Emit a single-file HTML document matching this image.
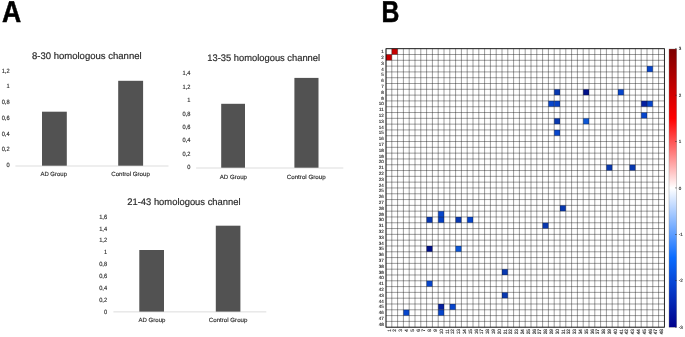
<!DOCTYPE html><html><head><meta charset="utf-8"><style>html,body{margin:0;padding:0;background:#fff}svg{display:block;will-change:transform}text{font-family:"Liberation Sans",sans-serif;text-rendering:geometricPrecision}</style></head><body>
<svg width="685" height="337" viewBox="0 0 685 337">
<rect width="685" height="337" fill="#fff"/>
<defs><linearGradient id="cb" x1="0" y1="0" x2="0" y2="1"><stop offset="0" stop-color="#7d0000"/><stop offset="0.25" stop-color="#ff0000"/><stop offset="0.5" stop-color="#ffffff"/><stop offset="0.75" stop-color="#0a6cff"/><stop offset="1" stop-color="#00008b"/></linearGradient></defs>
<text transform="translate(2.0 22.0) scale(0.88 1)" font-size="30.2" font-weight="bold" fill="#000" stroke="#000" stroke-width="0.5">A</text>
<text transform="translate(381.5 22.0) scale(0.82 1)" font-size="30.2" font-weight="bold" fill="#000" stroke="#000" stroke-width="0.5">B</text>
<text transform="translate(31.90 58.70) scale(1.0034 1)" font-size="9.5" fill="#2a2a2a" stroke="#2a2a2a" stroke-width="0.18">8-30 homologous channel</text>
<text transform="translate(9.60 72.70) scale(0.9200 1)" font-size="6.2" fill="#2a2a2a" text-anchor="end" stroke="#2a2a2a" stroke-width="0.14">1,2</text>
<text transform="translate(9.60 88.43) scale(0.9200 1)" font-size="6.2" fill="#2a2a2a" text-anchor="end" stroke="#2a2a2a" stroke-width="0.14">1</text>
<text transform="translate(9.60 104.17) scale(0.9200 1)" font-size="6.2" fill="#2a2a2a" text-anchor="end" stroke="#2a2a2a" stroke-width="0.14">0,8</text>
<text transform="translate(9.60 119.90) scale(0.9200 1)" font-size="6.2" fill="#2a2a2a" text-anchor="end" stroke="#2a2a2a" stroke-width="0.14">0,6</text>
<text transform="translate(9.60 135.63) scale(0.9200 1)" font-size="6.2" fill="#2a2a2a" text-anchor="end" stroke="#2a2a2a" stroke-width="0.14">0,4</text>
<text transform="translate(9.60 151.37) scale(0.9200 1)" font-size="6.2" fill="#2a2a2a" text-anchor="end" stroke="#2a2a2a" stroke-width="0.14">0,2</text>
<text transform="translate(9.60 167.10) scale(0.9200 1)" font-size="6.2" fill="#2a2a2a" text-anchor="end" stroke="#2a2a2a" stroke-width="0.14">0</text>
<rect x="15.4" y="165.6" width="153.1" height="0.8" fill="#d4d4d4"/>
<rect x="42.0" y="111.7" width="24.8" height="54.0" fill="#525252"/>
<rect x="118.2" y="80.8" width="24.9" height="84.9" fill="#525252"/>
<text transform="translate(40.40 176.30) scale(0.9971 1)" font-size="6.0" fill="#2a2a2a" stroke="#2a2a2a" stroke-width="0.14">AD Group</text>
<text transform="translate(111.20 176.30) scale(1.0269 1)" font-size="6.0" fill="#2a2a2a" stroke="#2a2a2a" stroke-width="0.14">Control Group</text>
<text transform="translate(207.30 60.90) scale(0.9842 1)" font-size="9.5" fill="#2a2a2a" stroke="#2a2a2a" stroke-width="0.18">13-35 homologous channel</text>
<text transform="translate(190.40 75.20) scale(0.9200 1)" font-size="6.2" fill="#2a2a2a" text-anchor="end" stroke="#2a2a2a" stroke-width="0.14">1,4</text>
<text transform="translate(190.40 88.66) scale(0.9200 1)" font-size="6.2" fill="#2a2a2a" text-anchor="end" stroke="#2a2a2a" stroke-width="0.14">1,2</text>
<text transform="translate(190.40 102.11) scale(0.9200 1)" font-size="6.2" fill="#2a2a2a" text-anchor="end" stroke="#2a2a2a" stroke-width="0.14">1</text>
<text transform="translate(190.40 115.57) scale(0.9200 1)" font-size="6.2" fill="#2a2a2a" text-anchor="end" stroke="#2a2a2a" stroke-width="0.14">0,8</text>
<text transform="translate(190.40 129.03) scale(0.9200 1)" font-size="6.2" fill="#2a2a2a" text-anchor="end" stroke="#2a2a2a" stroke-width="0.14">0,6</text>
<text transform="translate(190.40 142.49) scale(0.9200 1)" font-size="6.2" fill="#2a2a2a" text-anchor="end" stroke="#2a2a2a" stroke-width="0.14">0,4</text>
<text transform="translate(190.40 155.94) scale(0.9200 1)" font-size="6.2" fill="#2a2a2a" text-anchor="end" stroke="#2a2a2a" stroke-width="0.14">0,2</text>
<text transform="translate(190.40 169.40) scale(0.9200 1)" font-size="6.2" fill="#2a2a2a" text-anchor="end" stroke="#2a2a2a" stroke-width="0.14">0</text>
<rect x="196.1" y="167.6" width="147.2" height="0.8" fill="#d4d4d4"/>
<rect x="221.2" y="103.8" width="23.8" height="63.9" fill="#525252"/>
<rect x="294.4" y="77.9" width="24.1" height="89.8" fill="#525252"/>
<text transform="translate(219.70 178.60) scale(1.0233 1)" font-size="6.0" fill="#2a2a2a" stroke="#2a2a2a" stroke-width="0.14">AD Group</text>
<text transform="translate(286.70 178.60) scale(1.0349 1)" font-size="6.0" fill="#2a2a2a" stroke="#2a2a2a" stroke-width="0.14">Control Group</text>
<text transform="translate(127.30 204.80) scale(0.9877 1)" font-size="9.5" fill="#2a2a2a" stroke="#2a2a2a" stroke-width="0.18">21-43 homologous channel</text>
<text transform="translate(107.10 218.70) scale(0.9200 1)" font-size="6.2" fill="#2a2a2a" text-anchor="end" stroke="#2a2a2a" stroke-width="0.14">1,6</text>
<text transform="translate(107.10 230.56) scale(0.9200 1)" font-size="6.2" fill="#2a2a2a" text-anchor="end" stroke="#2a2a2a" stroke-width="0.14">1,4</text>
<text transform="translate(107.10 242.42) scale(0.9200 1)" font-size="6.2" fill="#2a2a2a" text-anchor="end" stroke="#2a2a2a" stroke-width="0.14">1,2</text>
<text transform="translate(107.10 254.29) scale(0.9200 1)" font-size="6.2" fill="#2a2a2a" text-anchor="end" stroke="#2a2a2a" stroke-width="0.14">1</text>
<text transform="translate(107.10 266.15) scale(0.9200 1)" font-size="6.2" fill="#2a2a2a" text-anchor="end" stroke="#2a2a2a" stroke-width="0.14">0,8</text>
<text transform="translate(107.10 278.01) scale(0.9200 1)" font-size="6.2" fill="#2a2a2a" text-anchor="end" stroke="#2a2a2a" stroke-width="0.14">0,6</text>
<text transform="translate(107.10 289.87) scale(0.9200 1)" font-size="6.2" fill="#2a2a2a" text-anchor="end" stroke="#2a2a2a" stroke-width="0.14">0,4</text>
<text transform="translate(107.10 301.74) scale(0.9200 1)" font-size="6.2" fill="#2a2a2a" text-anchor="end" stroke="#2a2a2a" stroke-width="0.14">0,2</text>
<text transform="translate(107.10 313.60) scale(0.9200 1)" font-size="6.2" fill="#2a2a2a" text-anchor="end" stroke="#2a2a2a" stroke-width="0.14">0</text>
<rect x="113.4" y="311.5" width="152.9" height="0.8" fill="#d4d4d4"/>
<rect x="139.3" y="250.0" width="24.7" height="61.6" fill="#525252"/>
<rect x="215.8" y="225.7" width="24.6" height="85.9" fill="#525252"/>
<text transform="translate(138.40 322.20) scale(1.0121 1)" font-size="6.0" fill="#2a2a2a" stroke="#2a2a2a" stroke-width="0.14">AD Group</text>
<text transform="translate(208.80 322.20) scale(1.0243 1)" font-size="6.0" fill="#2a2a2a" stroke="#2a2a2a" stroke-width="0.14">Control Group</text>
<rect x="391.80" y="48.70" width="5.80" height="5.80" fill="#c60000"/>
<rect x="386.00" y="54.50" width="5.80" height="5.80" fill="#c60000"/>
<rect x="647.00" y="66.11" width="5.80" height="5.80" fill="#0846cc"/>
<rect x="403.40" y="309.79" width="5.80" height="5.80" fill="#0846cc"/>
<rect x="554.20" y="89.31" width="5.80" height="5.80" fill="#0838b0"/>
<rect x="426.60" y="216.96" width="5.80" height="5.80" fill="#0838b0"/>
<rect x="583.20" y="89.31" width="5.80" height="5.80" fill="#00108a"/>
<rect x="426.60" y="245.97" width="5.80" height="5.80" fill="#00108a"/>
<rect x="618.00" y="89.31" width="5.80" height="5.80" fill="#0846cc"/>
<rect x="426.60" y="280.78" width="5.80" height="5.80" fill="#0846cc"/>
<rect x="548.40" y="100.92" width="5.80" height="5.80" fill="#0846cc"/>
<rect x="438.20" y="211.16" width="5.80" height="5.80" fill="#0846cc"/>
<rect x="554.20" y="100.92" width="5.80" height="5.80" fill="#0640c4"/>
<rect x="438.20" y="216.96" width="5.80" height="5.80" fill="#0640c4"/>
<rect x="641.20" y="100.92" width="5.80" height="5.80" fill="#0620a0"/>
<rect x="438.20" y="303.99" width="5.80" height="5.80" fill="#0620a0"/>
<rect x="647.00" y="100.92" width="5.80" height="5.80" fill="#0846cc"/>
<rect x="438.20" y="309.79" width="5.80" height="5.80" fill="#0846cc"/>
<rect x="641.20" y="112.52" width="5.80" height="5.80" fill="#0846cc"/>
<rect x="449.80" y="303.99" width="5.80" height="5.80" fill="#0846cc"/>
<rect x="554.20" y="118.33" width="5.80" height="5.80" fill="#0838b0"/>
<rect x="455.60" y="216.96" width="5.80" height="5.80" fill="#0838b0"/>
<rect x="583.20" y="118.33" width="5.80" height="5.80" fill="#0c56d6"/>
<rect x="455.60" y="245.97" width="5.80" height="5.80" fill="#0c56d6"/>
<rect x="554.20" y="129.93" width="5.80" height="5.80" fill="#0846cc"/>
<rect x="467.20" y="216.96" width="5.80" height="5.80" fill="#0846cc"/>
<rect x="606.40" y="164.74" width="5.80" height="5.80" fill="#0838b0"/>
<rect x="502.00" y="269.18" width="5.80" height="5.80" fill="#0838b0"/>
<rect x="629.60" y="164.74" width="5.80" height="5.80" fill="#0838b0"/>
<rect x="502.00" y="292.39" width="5.80" height="5.80" fill="#0838b0"/>
<rect x="560.00" y="205.36" width="5.80" height="5.80" fill="#0838b0"/>
<rect x="542.60" y="222.76" width="5.80" height="5.80" fill="#0838b0"/>
<path d="M386.00 48.70V327.20M386.00 48.70H664.40M391.80 48.70V327.20M386.00 54.50H664.40M397.60 48.70V327.20M386.00 60.30H664.40M403.40 48.70V327.20M386.00 66.11H664.40M409.20 48.70V327.20M386.00 71.91H664.40M415.00 48.70V327.20M386.00 77.71H664.40M420.80 48.70V327.20M386.00 83.51H664.40M426.60 48.70V327.20M386.00 89.31H664.40M432.40 48.70V327.20M386.00 95.12H664.40M438.20 48.70V327.20M386.00 100.92H664.40M444.00 48.70V327.20M386.00 106.72H664.40M449.80 48.70V327.20M386.00 112.52H664.40M455.60 48.70V327.20M386.00 118.33H664.40M461.40 48.70V327.20M386.00 124.13H664.40M467.20 48.70V327.20M386.00 129.93H664.40M473.00 48.70V327.20M386.00 135.73H664.40M478.80 48.70V327.20M386.00 141.53H664.40M484.60 48.70V327.20M386.00 147.34H664.40M490.40 48.70V327.20M386.00 153.14H664.40M496.20 48.70V327.20M386.00 158.94H664.40M502.00 48.70V327.20M386.00 164.74H664.40M507.80 48.70V327.20M386.00 170.54H664.40M513.60 48.70V327.20M386.00 176.35H664.40M519.40 48.70V327.20M386.00 182.15H664.40M525.20 48.70V327.20M386.00 187.95H664.40M531.00 48.70V327.20M386.00 193.75H664.40M536.80 48.70V327.20M386.00 199.55H664.40M542.60 48.70V327.20M386.00 205.36H664.40M548.40 48.70V327.20M386.00 211.16H664.40M554.20 48.70V327.20M386.00 216.96H664.40M560.00 48.70V327.20M386.00 222.76H664.40M565.80 48.70V327.20M386.00 228.56H664.40M571.60 48.70V327.20M386.00 234.37H664.40M577.40 48.70V327.20M386.00 240.17H664.40M583.20 48.70V327.20M386.00 245.97H664.40M589.00 48.70V327.20M386.00 251.77H664.40M594.80 48.70V327.20M386.00 257.57H664.40M600.60 48.70V327.20M386.00 263.38H664.40M606.40 48.70V327.20M386.00 269.18H664.40M612.20 48.70V327.20M386.00 274.98H664.40M618.00 48.70V327.20M386.00 280.78H664.40M623.80 48.70V327.20M386.00 286.59H664.40M629.60 48.70V327.20M386.00 292.39H664.40M635.40 48.70V327.20M386.00 298.19H664.40M641.20 48.70V327.20M386.00 303.99H664.40M647.00 48.70V327.20M386.00 309.79H664.40M652.80 48.70V327.20M386.00 315.60H664.40M658.60 48.70V327.20M386.00 321.40H664.40M664.40 48.70V327.20M386.00 327.20H664.40" stroke="#1a1a1a" stroke-width="0.43" fill="none"/>
<rect x="386.00" y="48.70" width="278.40" height="278.50" stroke="#111" stroke-width="0.8" fill="none"/>
<text x="383.7" y="53.20" font-size="4.5" fill="#222" text-anchor="end" stroke="#222" stroke-width="0.12">1</text>
<text transform="translate(390.60 329.0) rotate(-90)" font-size="4.8" fill="#222" text-anchor="end" stroke="#222" stroke-width="0.12">1</text>
<text x="383.7" y="59.00" font-size="4.5" fill="#222" text-anchor="end" stroke="#222" stroke-width="0.12">2</text>
<text transform="translate(396.40 329.0) rotate(-90)" font-size="4.8" fill="#222" text-anchor="end" stroke="#222" stroke-width="0.12">2</text>
<text x="383.7" y="64.81" font-size="4.5" fill="#222" text-anchor="end" stroke="#222" stroke-width="0.12">3</text>
<text transform="translate(402.20 329.0) rotate(-90)" font-size="4.8" fill="#222" text-anchor="end" stroke="#222" stroke-width="0.12">3</text>
<text x="383.7" y="70.61" font-size="4.5" fill="#222" text-anchor="end" stroke="#222" stroke-width="0.12">4</text>
<text transform="translate(408.00 329.0) rotate(-90)" font-size="4.8" fill="#222" text-anchor="end" stroke="#222" stroke-width="0.12">4</text>
<text x="383.7" y="76.41" font-size="4.5" fill="#222" text-anchor="end" stroke="#222" stroke-width="0.12">5</text>
<text transform="translate(413.80 329.0) rotate(-90)" font-size="4.8" fill="#222" text-anchor="end" stroke="#222" stroke-width="0.12">5</text>
<text x="383.7" y="82.21" font-size="4.5" fill="#222" text-anchor="end" stroke="#222" stroke-width="0.12">6</text>
<text transform="translate(419.60 329.0) rotate(-90)" font-size="4.8" fill="#222" text-anchor="end" stroke="#222" stroke-width="0.12">6</text>
<text x="383.7" y="88.01" font-size="4.5" fill="#222" text-anchor="end" stroke="#222" stroke-width="0.12">7</text>
<text transform="translate(425.40 329.0) rotate(-90)" font-size="4.8" fill="#222" text-anchor="end" stroke="#222" stroke-width="0.12">7</text>
<text x="383.7" y="93.82" font-size="4.5" fill="#222" text-anchor="end" stroke="#222" stroke-width="0.12">8</text>
<text transform="translate(431.20 329.0) rotate(-90)" font-size="4.8" fill="#222" text-anchor="end" stroke="#222" stroke-width="0.12">8</text>
<text x="383.7" y="99.62" font-size="4.5" fill="#222" text-anchor="end" stroke="#222" stroke-width="0.12">9</text>
<text transform="translate(437.00 329.0) rotate(-90)" font-size="4.8" fill="#222" text-anchor="end" stroke="#222" stroke-width="0.12">9</text>
<text x="383.7" y="105.42" font-size="4.5" fill="#222" text-anchor="end" stroke="#222" stroke-width="0.12">10</text>
<text transform="translate(442.80 329.0) rotate(-90)" font-size="4.8" fill="#222" text-anchor="end" stroke="#222" stroke-width="0.12">10</text>
<text x="383.7" y="111.22" font-size="4.5" fill="#222" text-anchor="end" stroke="#222" stroke-width="0.12">11</text>
<text transform="translate(448.60 329.0) rotate(-90)" font-size="4.8" fill="#222" text-anchor="end" stroke="#222" stroke-width="0.12">11</text>
<text x="383.7" y="117.02" font-size="4.5" fill="#222" text-anchor="end" stroke="#222" stroke-width="0.12">12</text>
<text transform="translate(454.40 329.0) rotate(-90)" font-size="4.8" fill="#222" text-anchor="end" stroke="#222" stroke-width="0.12">12</text>
<text x="383.7" y="122.83" font-size="4.5" fill="#222" text-anchor="end" stroke="#222" stroke-width="0.12">13</text>
<text transform="translate(460.20 329.0) rotate(-90)" font-size="4.8" fill="#222" text-anchor="end" stroke="#222" stroke-width="0.12">13</text>
<text x="383.7" y="128.63" font-size="4.5" fill="#222" text-anchor="end" stroke="#222" stroke-width="0.12">14</text>
<text transform="translate(466.00 329.0) rotate(-90)" font-size="4.8" fill="#222" text-anchor="end" stroke="#222" stroke-width="0.12">14</text>
<text x="383.7" y="134.43" font-size="4.5" fill="#222" text-anchor="end" stroke="#222" stroke-width="0.12">15</text>
<text transform="translate(471.80 329.0) rotate(-90)" font-size="4.8" fill="#222" text-anchor="end" stroke="#222" stroke-width="0.12">15</text>
<text x="383.7" y="140.23" font-size="4.5" fill="#222" text-anchor="end" stroke="#222" stroke-width="0.12">16</text>
<text transform="translate(477.60 329.0) rotate(-90)" font-size="4.8" fill="#222" text-anchor="end" stroke="#222" stroke-width="0.12">16</text>
<text x="383.7" y="146.03" font-size="4.5" fill="#222" text-anchor="end" stroke="#222" stroke-width="0.12">17</text>
<text transform="translate(483.40 329.0) rotate(-90)" font-size="4.8" fill="#222" text-anchor="end" stroke="#222" stroke-width="0.12">17</text>
<text x="383.7" y="151.84" font-size="4.5" fill="#222" text-anchor="end" stroke="#222" stroke-width="0.12">18</text>
<text transform="translate(489.20 329.0) rotate(-90)" font-size="4.8" fill="#222" text-anchor="end" stroke="#222" stroke-width="0.12">18</text>
<text x="383.7" y="157.64" font-size="4.5" fill="#222" text-anchor="end" stroke="#222" stroke-width="0.12">19</text>
<text transform="translate(495.00 329.0) rotate(-90)" font-size="4.8" fill="#222" text-anchor="end" stroke="#222" stroke-width="0.12">19</text>
<text x="383.7" y="163.44" font-size="4.5" fill="#222" text-anchor="end" stroke="#222" stroke-width="0.12">20</text>
<text transform="translate(500.80 329.0) rotate(-90)" font-size="4.8" fill="#222" text-anchor="end" stroke="#222" stroke-width="0.12">20</text>
<text x="383.7" y="169.24" font-size="4.5" fill="#222" text-anchor="end" stroke="#222" stroke-width="0.12">21</text>
<text transform="translate(506.60 329.0) rotate(-90)" font-size="4.8" fill="#222" text-anchor="end" stroke="#222" stroke-width="0.12">21</text>
<text x="383.7" y="175.04" font-size="4.5" fill="#222" text-anchor="end" stroke="#222" stroke-width="0.12">22</text>
<text transform="translate(512.40 329.0) rotate(-90)" font-size="4.8" fill="#222" text-anchor="end" stroke="#222" stroke-width="0.12">22</text>
<text x="383.7" y="180.85" font-size="4.5" fill="#222" text-anchor="end" stroke="#222" stroke-width="0.12">23</text>
<text transform="translate(518.20 329.0) rotate(-90)" font-size="4.8" fill="#222" text-anchor="end" stroke="#222" stroke-width="0.12">23</text>
<text x="383.7" y="186.65" font-size="4.5" fill="#222" text-anchor="end" stroke="#222" stroke-width="0.12">24</text>
<text transform="translate(524.00 329.0) rotate(-90)" font-size="4.8" fill="#222" text-anchor="end" stroke="#222" stroke-width="0.12">24</text>
<text x="383.7" y="192.45" font-size="4.5" fill="#222" text-anchor="end" stroke="#222" stroke-width="0.12">25</text>
<text transform="translate(529.80 329.0) rotate(-90)" font-size="4.8" fill="#222" text-anchor="end" stroke="#222" stroke-width="0.12">25</text>
<text x="383.7" y="198.25" font-size="4.5" fill="#222" text-anchor="end" stroke="#222" stroke-width="0.12">26</text>
<text transform="translate(535.60 329.0) rotate(-90)" font-size="4.8" fill="#222" text-anchor="end" stroke="#222" stroke-width="0.12">26</text>
<text x="383.7" y="204.06" font-size="4.5" fill="#222" text-anchor="end" stroke="#222" stroke-width="0.12">27</text>
<text transform="translate(541.40 329.0) rotate(-90)" font-size="4.8" fill="#222" text-anchor="end" stroke="#222" stroke-width="0.12">27</text>
<text x="383.7" y="209.86" font-size="4.5" fill="#222" text-anchor="end" stroke="#222" stroke-width="0.12">28</text>
<text transform="translate(547.20 329.0) rotate(-90)" font-size="4.8" fill="#222" text-anchor="end" stroke="#222" stroke-width="0.12">28</text>
<text x="383.7" y="215.66" font-size="4.5" fill="#222" text-anchor="end" stroke="#222" stroke-width="0.12">29</text>
<text transform="translate(553.00 329.0) rotate(-90)" font-size="4.8" fill="#222" text-anchor="end" stroke="#222" stroke-width="0.12">29</text>
<text x="383.7" y="221.46" font-size="4.5" fill="#222" text-anchor="end" stroke="#222" stroke-width="0.12">30</text>
<text transform="translate(558.80 329.0) rotate(-90)" font-size="4.8" fill="#222" text-anchor="end" stroke="#222" stroke-width="0.12">30</text>
<text x="383.7" y="227.26" font-size="4.5" fill="#222" text-anchor="end" stroke="#222" stroke-width="0.12">31</text>
<text transform="translate(564.60 329.0) rotate(-90)" font-size="4.8" fill="#222" text-anchor="end" stroke="#222" stroke-width="0.12">31</text>
<text x="383.7" y="233.07" font-size="4.5" fill="#222" text-anchor="end" stroke="#222" stroke-width="0.12">32</text>
<text transform="translate(570.40 329.0) rotate(-90)" font-size="4.8" fill="#222" text-anchor="end" stroke="#222" stroke-width="0.12">32</text>
<text x="383.7" y="238.87" font-size="4.5" fill="#222" text-anchor="end" stroke="#222" stroke-width="0.12">33</text>
<text transform="translate(576.20 329.0) rotate(-90)" font-size="4.8" fill="#222" text-anchor="end" stroke="#222" stroke-width="0.12">33</text>
<text x="383.7" y="244.67" font-size="4.5" fill="#222" text-anchor="end" stroke="#222" stroke-width="0.12">34</text>
<text transform="translate(582.00 329.0) rotate(-90)" font-size="4.8" fill="#222" text-anchor="end" stroke="#222" stroke-width="0.12">34</text>
<text x="383.7" y="250.47" font-size="4.5" fill="#222" text-anchor="end" stroke="#222" stroke-width="0.12">35</text>
<text transform="translate(587.80 329.0) rotate(-90)" font-size="4.8" fill="#222" text-anchor="end" stroke="#222" stroke-width="0.12">35</text>
<text x="383.7" y="256.27" font-size="4.5" fill="#222" text-anchor="end" stroke="#222" stroke-width="0.12">36</text>
<text transform="translate(593.60 329.0) rotate(-90)" font-size="4.8" fill="#222" text-anchor="end" stroke="#222" stroke-width="0.12">36</text>
<text x="383.7" y="262.08" font-size="4.5" fill="#222" text-anchor="end" stroke="#222" stroke-width="0.12">37</text>
<text transform="translate(599.40 329.0) rotate(-90)" font-size="4.8" fill="#222" text-anchor="end" stroke="#222" stroke-width="0.12">37</text>
<text x="383.7" y="267.88" font-size="4.5" fill="#222" text-anchor="end" stroke="#222" stroke-width="0.12">38</text>
<text transform="translate(605.20 329.0) rotate(-90)" font-size="4.8" fill="#222" text-anchor="end" stroke="#222" stroke-width="0.12">38</text>
<text x="383.7" y="273.68" font-size="4.5" fill="#222" text-anchor="end" stroke="#222" stroke-width="0.12">39</text>
<text transform="translate(611.00 329.0) rotate(-90)" font-size="4.8" fill="#222" text-anchor="end" stroke="#222" stroke-width="0.12">39</text>
<text x="383.7" y="279.48" font-size="4.5" fill="#222" text-anchor="end" stroke="#222" stroke-width="0.12">40</text>
<text transform="translate(616.80 329.0) rotate(-90)" font-size="4.8" fill="#222" text-anchor="end" stroke="#222" stroke-width="0.12">40</text>
<text x="383.7" y="285.28" font-size="4.5" fill="#222" text-anchor="end" stroke="#222" stroke-width="0.12">41</text>
<text transform="translate(622.60 329.0) rotate(-90)" font-size="4.8" fill="#222" text-anchor="end" stroke="#222" stroke-width="0.12">41</text>
<text x="383.7" y="291.09" font-size="4.5" fill="#222" text-anchor="end" stroke="#222" stroke-width="0.12">42</text>
<text transform="translate(628.40 329.0) rotate(-90)" font-size="4.8" fill="#222" text-anchor="end" stroke="#222" stroke-width="0.12">42</text>
<text x="383.7" y="296.89" font-size="4.5" fill="#222" text-anchor="end" stroke="#222" stroke-width="0.12">43</text>
<text transform="translate(634.20 329.0) rotate(-90)" font-size="4.8" fill="#222" text-anchor="end" stroke="#222" stroke-width="0.12">43</text>
<text x="383.7" y="302.69" font-size="4.5" fill="#222" text-anchor="end" stroke="#222" stroke-width="0.12">44</text>
<text transform="translate(640.00 329.0) rotate(-90)" font-size="4.8" fill="#222" text-anchor="end" stroke="#222" stroke-width="0.12">44</text>
<text x="383.7" y="308.49" font-size="4.5" fill="#222" text-anchor="end" stroke="#222" stroke-width="0.12">45</text>
<text transform="translate(645.80 329.0) rotate(-90)" font-size="4.8" fill="#222" text-anchor="end" stroke="#222" stroke-width="0.12">45</text>
<text x="383.7" y="314.29" font-size="4.5" fill="#222" text-anchor="end" stroke="#222" stroke-width="0.12">46</text>
<text transform="translate(651.60 329.0) rotate(-90)" font-size="4.8" fill="#222" text-anchor="end" stroke="#222" stroke-width="0.12">46</text>
<text x="383.7" y="320.10" font-size="4.5" fill="#222" text-anchor="end" stroke="#222" stroke-width="0.12">47</text>
<text transform="translate(657.40 329.0) rotate(-90)" font-size="4.8" fill="#222" text-anchor="end" stroke="#222" stroke-width="0.12">47</text>
<text x="383.7" y="325.90" font-size="4.5" fill="#222" text-anchor="end" stroke="#222" stroke-width="0.12">48</text>
<text transform="translate(663.20 329.0) rotate(-90)" font-size="4.8" fill="#222" text-anchor="end" stroke="#222" stroke-width="0.12">48</text>
<rect x="669.0" y="49.00" width="7.70" height="278.20" fill="url(#cb)" stroke="#777" stroke-width="0.35"/>
<rect x="675.10" y="48.45" width="1.6" height="0.5" fill="#222"/>
<text x="678.7" y="50.30" font-size="4.5" fill="#222" stroke="#222" stroke-width="0.12">3</text>
<rect x="675.10" y="94.87" width="1.6" height="0.5" fill="#222"/>
<text x="678.7" y="96.72" font-size="4.5" fill="#222" stroke="#222" stroke-width="0.12">2</text>
<rect x="675.10" y="141.28" width="1.6" height="0.5" fill="#222"/>
<text x="678.7" y="143.13" font-size="4.5" fill="#222" stroke="#222" stroke-width="0.12">1</text>
<rect x="675.10" y="187.70" width="1.6" height="0.5" fill="#222"/>
<text x="678.7" y="189.55" font-size="4.5" fill="#222" stroke="#222" stroke-width="0.12">0</text>
<rect x="675.10" y="234.12" width="1.6" height="0.5" fill="#222"/>
<text x="678.7" y="235.97" font-size="4.5" fill="#222" stroke="#222" stroke-width="0.12">-1</text>
<rect x="675.10" y="280.53" width="1.6" height="0.5" fill="#222"/>
<text x="678.7" y="282.38" font-size="4.5" fill="#222" stroke="#222" stroke-width="0.12">-2</text>
<rect x="675.10" y="326.95" width="1.6" height="0.5" fill="#222"/>
<text x="678.7" y="328.80" font-size="4.5" fill="#222" stroke="#222" stroke-width="0.12">-3</text>
</svg></body></html>
